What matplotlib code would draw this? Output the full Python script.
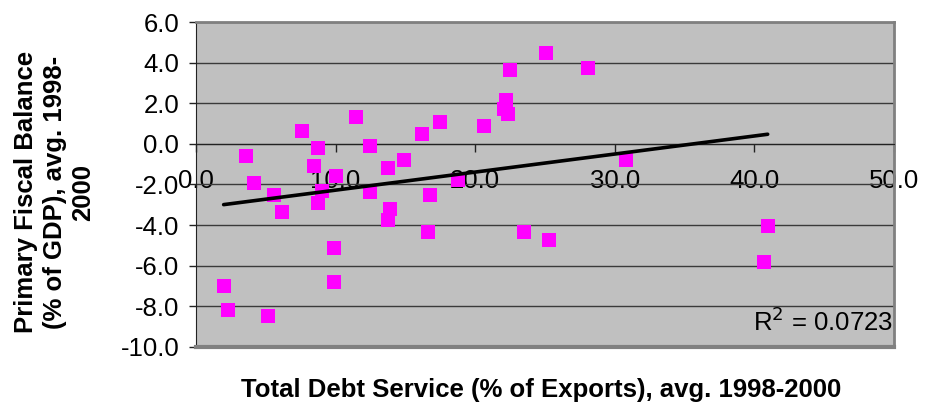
import numpy as np
import matplotlib
matplotlib.use('Agg')
import matplotlib.pyplot as plt

plt.rcParams['font.family'] = ['Liberation Sans', 'DejaVu Sans']

# debt service (% of exports) vs primary fiscal balance (% of GDP)
debt_service = [1.98, 2.27, 3.56, 4.13, 5.14, 5.56, 6.14, 7.57, 8.43, 8.72,
                8.72, 9.0, 9.86, 9.86, 10.0, 11.44, 12.44, 12.44, 13.73, 13.73,
                13.88, 14.88, 16.17, 16.6, 16.74, 17.46, 18.75, 20.6, 22.04, 22.18,
                22.33, 22.47, 23.5, 25.05, 25.3, 28.06, 30.78, 40.67, 40.95]
fiscal_balance = [-6.98, -8.16, -0.58, -1.95, -8.46, -2.51, -3.33, 0.61, -1.07, -0.18,
                  -2.92, -2.33, -5.11, -6.78, -1.56, 1.30, -0.08, -2.38, -1.17, -3.73,
                  -3.23, -0.77, 0.51, -4.32, -2.53, 1.10, -1.79, 0.90, 1.72, 2.15,
                  1.49, 3.66, -4.32, 4.45, -4.71, 3.76, -0.77, -5.80, -4.02]
r2_label = 'R$^2$ = 0.0723'

x = np.array(debt_service)
y = np.array(fiscal_balance)
slope, icpt = np.polyfit(x, y, 1)
xs = np.array([x.min(), x.max()])

fig = plt.figure(figsize=(9.25, 4.09), dpi=100)
ax = fig.add_axes([0.2119, 0.1516, 0.7546, 0.7946])
ax.set_facecolor('#C0C0C0')

ax.set_xlim(0, 50)
ax.set_ylim(-10, 6)
ax.set_xticks(np.arange(0, 51, 10))
ax.set_yticks(np.arange(-10, 7, 2))
ax.set_xticklabels(['%.1f' % v for v in np.arange(0, 51, 10)])
ax.set_yticklabels(['%.1f' % v for v in np.arange(-10, 7, 2)])

ax.grid(axis='y', color='#3a3a3a', linewidth=1.0)
ax.set_axisbelow(True)

ax.spines['bottom'].set_position(('data', 0))
ax.spines['bottom'].set_color('#222222')
ax.spines['left'].set_color('#222222')
for s in ['top', 'right']:
    ax.spines[s].set_color('#808080')
    ax.spines[s].set_linewidth(2)
ax.axhline(-10, color='#808080', linewidth=3, clip_on=False, zorder=5)

ax.tick_params(axis='x', direction='out', length=6, width=1, color='#222222',
               labelsize=18.5, pad=12)
ax.tick_params(axis='y', direction='out', length=5, width=1, color='#222222',
               labelsize=18.5, pad=7)

ax.scatter(x, y, marker='s', s=95, color='#FF00FF', linewidths=0, zorder=3)
ax.plot(xs, slope * xs + icpt, color='black', linewidth=2.6, zorder=4,
        solid_capstyle='round')

ax.text(49.9, -8.75, r2_label, ha='right', va='center', fontsize=18.5)

fig.text(0.585, 0.047, 'Total Debt Service (% of Exports), avg. 1998-2000',
         ha='center', va='center', fontsize=18.5, fontweight='bold')
fig.text(0.059, 0.53, 'Primary Fiscal Balance\n(% of GDP), avg. 1998-\n2000',
         ha='center', va='center', rotation=90, fontsize=18.5,
         fontweight='bold', multialignment='center', linespacing=1.25)

fig.savefig('out.png', dpi=100)
